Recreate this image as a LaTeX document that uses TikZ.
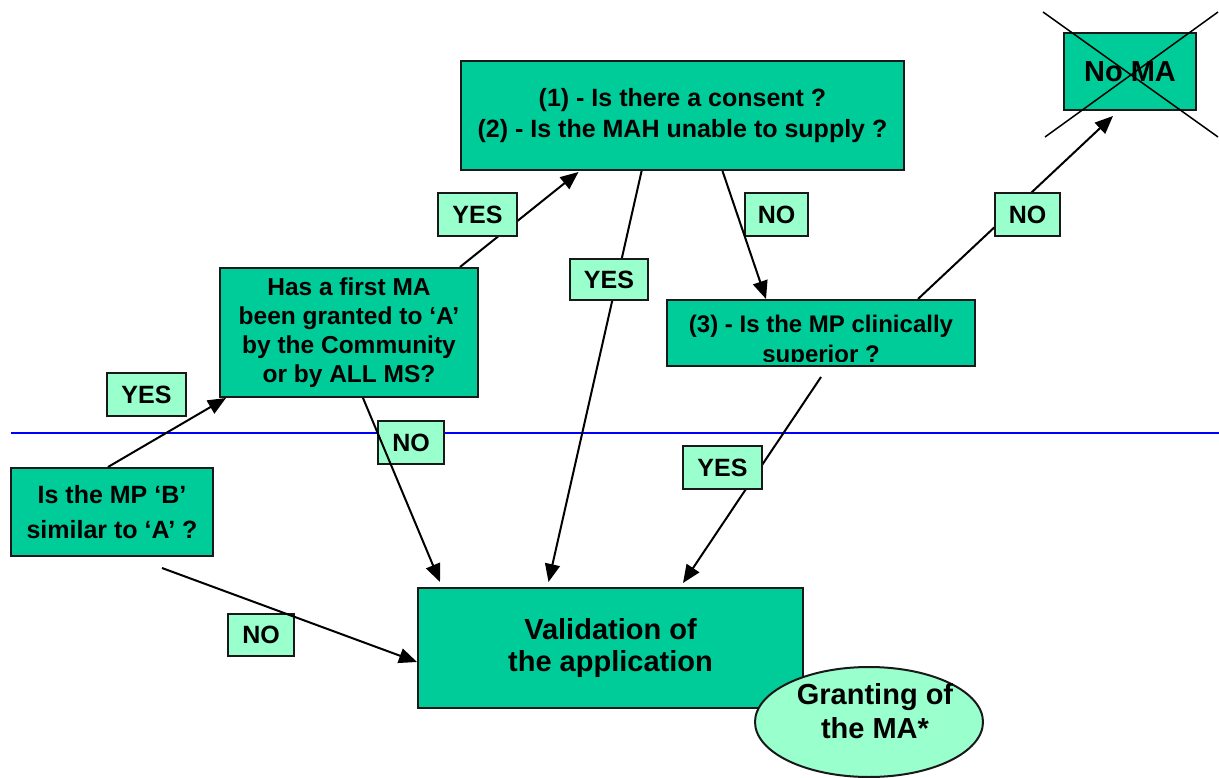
\documentclass[tikz,border=0pt]{standalone}
\usepackage{fontspec}
\setmainfont{Liberation Sans}
\usetikzlibrary{arrows.meta,shapes.geometric}
\definecolor{boxgreen}{HTML}{00CC99}
\definecolor{taggreen}{HTML}{99FFCC}
\pgfdeclarelayer{back}
\pgfsetlayers{back,main}

\begin{document}
\begin{tikzpicture}[x=1pt, y=-1pt,
		every node/.style={font=\bfseries\fontsize{24}{29}\selectfont, align=center, inner sep=0pt},
		qbox/.style={draw=black!90, line width=2pt, fill=boxgreen},
		tag/.style={draw=black!90, line width=1.6pt, fill=taggreen, minimum width=79pt, minimum height=43pt, font=\bfseries\fontsize{25}{29}\selectfont},
		link/.style={-{Triangle[length=18pt,width=15pt]}, line width=2pt}]
	\useasboundingbox (0,0) rectangle (1219,778);

	% questions
	\node[qbox, minimum width=443pt, minimum height=109pt, font=\bfseries\fontsize{25}{31}\selectfont] (q1) at (682.5,115.5) {(1) - Is there a consent ?\\(2) - Is the MAH unable to supply ?};
	\node[qbox, minimum width=132pt, minimum height=77pt, font=\bfseries\fontsize{29}{33}\selectfont] (noma) at (1130,71.5) {No MA};
	\node[qbox, minimum width=258pt, minimum height=129pt, font=\bfseries\fontsize{24.5}{29}\selectfont] (qa) at (349,332.5) {Has a first MA\\been granted to ‘A’\\by the Community\\or by ALL MS?};
	\node[qbox, minimum width=202pt, minimum height=88pt, font=\bfseries\fontsize{25}{35}\selectfont] (qb) at (112,512) {Is the MP ‘B’\\similar to ‘A’ ?};
	\node[qbox, minimum width=308pt, minimum height=66pt] (q3) at (821,333) {};
	\begin{scope}
		\clip ([shift={(2pt,-1pt)}]q3.north west) rectangle (965,361);
		\node[anchor=base] (q3a) at (821,332) {(3) - Is the MP clinically};
		\node[anchor=base] (q3b) at (821,362) {superior ?};
	\end{scope}
	\node[qbox, minimum width=385pt, minimum height=120pt, font=\bfseries\fontsize{29}{32}\selectfont] (val) at (610.5,648) {Validation of\\the application};
	\node[ellipse, draw=black!90, line width=2pt, fill=taggreen, minimum width=228pt, minimum height=110pt] (grant) at (869,722) {};
	\node[font=\bfseries\fontsize{29}{34}\selectfont] (granttxt) at (875,711) {Granting of\\the MA*};

	% answers
	\node[tag] (y1) at (477.5,214.5) {YES};
	\node[tag, minimum width=78pt, minimum height=41pt] (y2) at (609,279.5) {YES};
	\node[tag, minimum width=63pt] (n1) at (776.5,214.5) {NO};
	\node[tag, minimum width=65pt] (n2) at (1027.5,214.5) {NO};
	\node[tag] (y3) at (146.5,394.5) {YES};
	\node[tag, minimum width=66pt] (n3) at (411,442.5) {NO};
	\node[tag] (y4) at (722.5,467.5) {YES};
	\node[tag, minimum width=66pt, minimum height=42pt] (n4) at (261,635) {NO};

	\begin{pgfonlayer}{back}
		\draw[blue, line width=2pt] (11,433) -- (1219,433);
		\draw[link] ([xshift=111pt]qa.north) -- ([xshift=-104pt,yshift=-1pt]q1.south);
		\draw[link] ([xshift=-40pt,yshift=4pt]q1.south) -- ([xshift=-62pt,yshift=5pt]val.north);
		\draw[link] ([xshift=97pt]q3.north) -- ([xshift=-17pt,yshift=-5pt]noma.south);
		\draw[link] ([yshift=-10pt]q3.south) -- ([xshift=72.5pt,yshift=4pt]val.north);
	\end{pgfonlayer}
	\draw[link] ([xshift=-4pt]qb.north) -- ([xshift=7pt]qa.south west);
	\draw[link] ([xshift=40pt]q1.south) -- ([xshift=-55pt]q3.north);
	\draw[link] ([xshift=14pt]qa.south) -- ([xshift=-170.5pt,yshift=5pt]val.north);
	\draw[link] ([xshift=50pt,yshift=-11pt]qb.south) -- ([yshift=-14pt]val.west);

	% crossed out
	\draw[line width=1.5pt] (1043,12) -- (1218,137);
	\draw[line width=1.5pt] (1218,12) -- (1045,137);
\end{tikzpicture}
\end{document}
